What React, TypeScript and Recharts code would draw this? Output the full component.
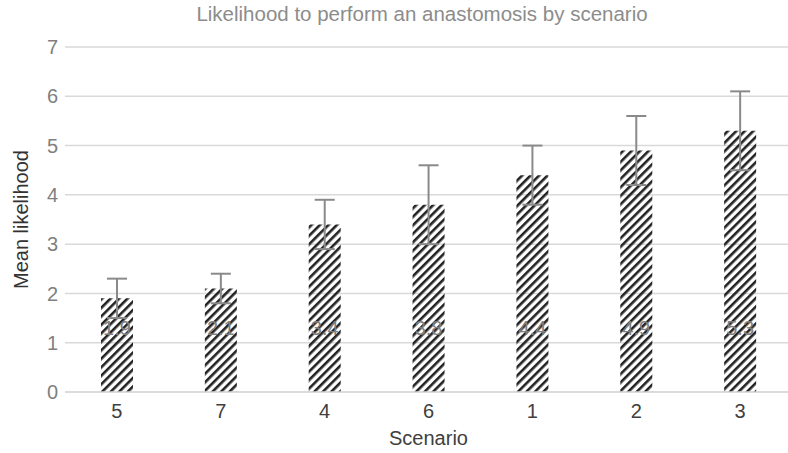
import React from "react";
import {
  BarChart,
  Bar,
  XAxis,
  YAxis,
  CartesianGrid,
  ErrorBar,
  LabelList,
} from "recharts";

// Scenarios sorted by mean likelihood, as in the source figure
const scenarios = ["5", "7", "4", "6", "1", "2", "3"];
const meanLikelihood = [1.9, 2.1, 3.4, 3.8, 4.4, 4.9, 5.3];
const errorRange = [0.4, 0.3, 0.5, 0.8, 0.6, 0.7, 0.8];
const yTicks = [0, 1, 2, 3, 4, 5, 6, 7];

const chartData = scenarios.map((s, i) => ({
  scenario: s,
  mean: meanLikelihood[i],
  err: errorRange[i],
}));

const FONT = "'Liberation Sans', Arial, sans-serif";

// value label sits a fixed distance up from the bar base
const ValueLabel = (props: any) => {
  const { x, y, width, height, value } = props;
  const base = y + height;
  return (
    <text
      x={x + width / 2}
      y={base - 57}
      textAnchor="middle"
      fill="#7f7f7f"
      fontSize={20}
      fontFamily={FONT}
    >
      {value}
    </text>
  );
};

const App: React.FC = () => {
  return (
    <div
      style={{
        position: "absolute",
        left: 0,
        top: 0,
        width: 788,
        height: 453,
        overflow: "hidden",
        background: "#fff",
        fontFamily: FONT,
      }}
    >
      <div
        style={{
          position: "absolute",
          left: 422,
          top: 2,
          transform: "translateX(-50%)",
          whiteSpace: "nowrap",
          fontSize: 20.5,
          lineHeight: "24px",
          color: "#8c8c8c",
        }}
      >
        Likelihood to perform an anastomosis by scenario
      </div>
      <BarChart
        width={792}
        height={453}
        data={chartData}
        margin={{ top: 47, right: 0, bottom: 0, left: 0 }}
      >
        <defs>
          <pattern
            id="hatch"
            width={6}
            height={6}
            patternUnits="userSpaceOnUse"
            patternTransform="rotate(45)"
          >
            <rect x={0} y={0} width={2.6} height={6} fill="#222" />
          </pattern>
        </defs>
        <CartesianGrid vertical={false} stroke="#d9d9d9" strokeWidth={1.5} />
        <XAxis
          dataKey="scenario"
          height={61}
          axisLine={{ stroke: "#d9d9d9", strokeWidth: 1.5 }}
          tickLine={false}
          tickSize={0}
          tickMargin={12}
          tick={{ fill: "#404040", fontSize: 20, fontFamily: FONT }}
          label={{
            value: "Scenario",
            position: "insideBottom",
            offset: 8,
            fill: "#404040",
            fontSize: 20,
            fontFamily: FONT,
          }}
        />
        <YAxis
          width={65}
          domain={[0, 7]}
          ticks={yTicks}
          interval={0}
          axisLine={false}
          tickLine={false}
          tickSize={0}
          tickMargin={7}
          tick={{ fill: "#7f7f7f", fontSize: 20, fontFamily: FONT }}
          label={{
            value: "Mean likelihood",
            angle: -90,
            position: "insideLeft",
            offset: 21,
            fill: "#333",
            fontSize: 20,
            fontFamily: FONT,
            style: { textAnchor: "middle" },
          }}
        />
        <Bar
          dataKey="mean"
          fill="url(#hatch)"
          barSize={32}
          isAnimationActive={false}
        >
          <ErrorBar
            dataKey="err"
            width={10}
            stroke="#8a8a8a"
            strokeWidth={2}
            direction="y"
          />
          <LabelList dataKey="mean" content={<ValueLabel />} />
        </Bar>
      </BarChart>
    </div>
  );
};

export default App;
